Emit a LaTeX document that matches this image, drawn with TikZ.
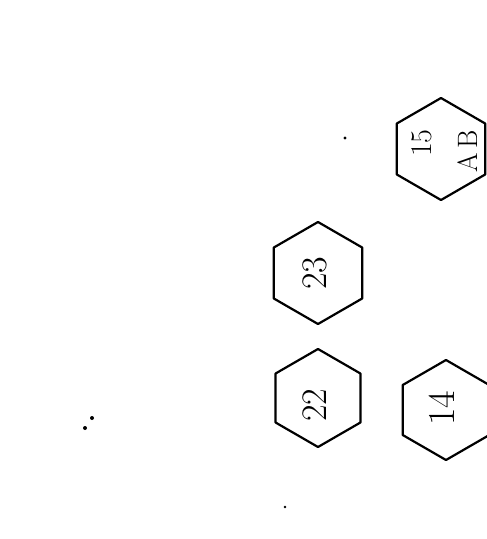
\documentclass[tikz,border=0pt]{standalone}
\usetikzlibrary{calc}
\begin{document}
\begin{tikzpicture}[x=1pt,y=-1pt,
  hexline/.style={line width=2.2pt,line join=round},
  lbl/.style={inner sep=0pt,rotate=90,font=\fontsize{#1}{#1}\selectfont},
  speck/.style={fill=black,draw=none}]
\useasboundingbox (0,0) rectangle (487,539);
\begin{scope}
\clip (0,0) rectangle (487,539);
% hexagon centres
\coordinate (h15) at (441,149);
\coordinate (h23) at (318,273);
\coordinate (h22) at (318,398);
\coordinate (h14) at (446,410);
\foreach \c/\r in {h15/51,h23/51,h22/49,h14/50}{
  \draw[hexline] ($(\c)+(90:\r)$) -- ($(\c)+(150:\r)$) -- ($(\c)+(210:\r)$)
    -- ($(\c)+(270:\r)$) -- ($(\c)+(330:\r)$) -- ($(\c)+(30:\r)$) -- cycle;
}
\end{scope}
\node[lbl=30] (t15) at (422,143) {15};
\node[lbl=28] (tab) at (468,151) {A\,B};
\node[lbl=36] (t23) at (315,273) {23};
\node[lbl=36] (t22) at (315,405) {22};
\node[lbl=38] (t14) at (442,408) {14};
\fill[speck] (345,138) circle (1.6);
\fill[speck] (285,507) circle (1.4);
\fill[speck] (92,418) circle (2);
\fill[speck] (85,428) circle (2);
\end{tikzpicture}
\end{document}
